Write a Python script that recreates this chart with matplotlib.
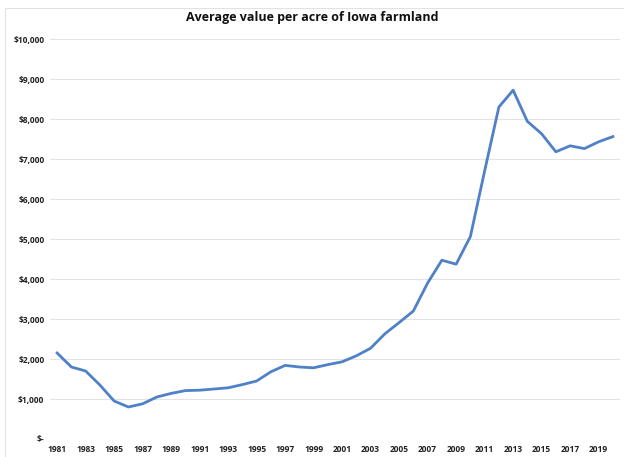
import matplotlib.pyplot as plt
from matplotlib.patches import Rectangle
from matplotlib.ticker import FuncFormatter

years = list(range(1981, 2021))
values = [2150, 1800, 1700, 1350, 950, 800, 880, 1050, 1140, 1210,
          1220, 1250, 1280, 1360, 1450, 1680, 1840, 1800, 1780, 1860,
          1930, 2080, 2270, 2630, 2910, 3200, 3900, 4470, 4370, 5060,
          6700, 8300, 8720, 7940, 7630, 7180, 7330, 7260, 7430, 7560]
tick_years = years[::2]

plt.rcParams['font.family'] = ['Open Sans', 'DejaVu Sans']

fig = plt.figure(figsize=(6.24, 4.57), dpi=100)
# light chart frame (left and top edges visible in the reference)
fig.patches.append(Rectangle((5 / 624, -0.01), 1, 1 - 8 / 457 + 0.01, transform=fig.transFigure,
                             fill=False, edgecolor='#e2e2e2', linewidth=0.8))
ax = fig.add_axes([50 / 624, 18 / 457, 570 / 624, 400 / 457])

ax.plot(years, values, color='#4f81c7', linewidth=2)

ax.set_ylim(0, 10000)
ax.set_xlim(1980.5, 2020.5)
ax.set_yticks(range(0, 10001, 1000))
ax.yaxis.set_major_formatter(FuncFormatter(lambda v, p: '$-' if v == 0 else f'${v:,.0f}'))
ax.set_xticks(tick_years)
ax.grid(axis='y', color='#e3e3e3', linewidth=0.8)
ax.set_axisbelow(True)
for s in ax.spines.values():
    s.set_visible(False)
ax.tick_params(length=0, labelsize=6, labelcolor='#222222', pad=4)
for lab in ax.get_xticklabels() + ax.get_yticklabels():
    lab.set_fontweight('bold')

fig.text(0.5, 1 - 17 / 457, 'Average value per acre of Iowa farmland',
         ha='center', va='center', fontsize=9, fontweight='bold', color='#111111')

fig.savefig('out.png', dpi=100)
